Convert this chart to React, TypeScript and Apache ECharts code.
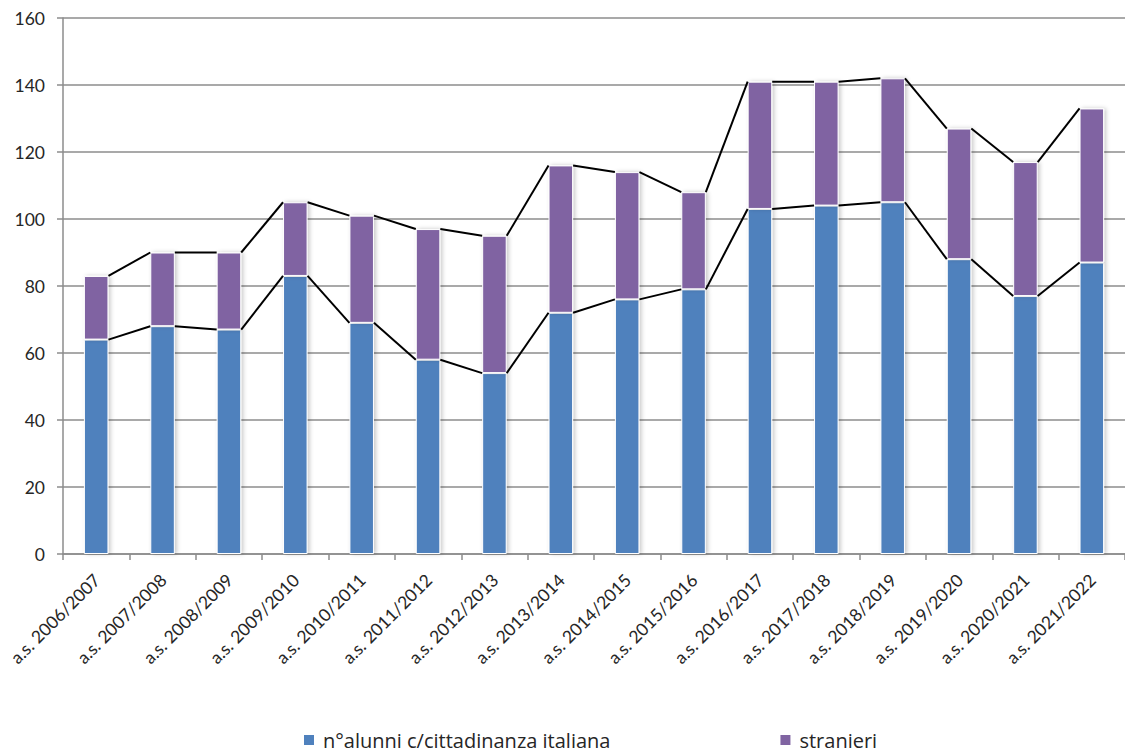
import React, { useEffect, useRef } from "react";
import * as echarts from "echarts";

const categories = [
  "a.s. 2006/2007", "a.s. 2007/2008", "a.s. 2008/2009", "a.s. 2009/2010",
  "a.s. 2010/2011", "a.s. 2011/2012", "a.s. 2012/2013", "a.s. 2013/2014",
  "a.s. 2014/2015", "a.s. 2015/2016", "a.s. 2016/2017", "a.s. 2017/2018",
  "a.s. 2018/2019", "a.s. 2019/2020", "a.s. 2020/2021", "a.s. 2021/2022",
];
const italiani = [64, 68, 67, 83, 69, 58, 54, 72, 76, 79, 103, 104, 105, 88, 77, 87];
const stranieri = [19, 22, 23, 22, 32, 39, 41, 44, 38, 29, 38, 37, 37, 39, 40, 46];
const seriesNames = ["n°alunni c/cittadinanza italiana", "stranieri"];
const yTicks = { min: 0, max: 160, interval: 20 };

const FONT = "Lato, 'Open Sans', sans-serif";
const LEGEND_FONT = "'Open Sans', Lato, sans-serif";
const BAR_FRAC = 0.37;

export default function App() {
  const ref = useRef<HTMLDivElement>(null);
  useEffect(() => {
    if (!ref.current) return;
    const chart = echarts.init(ref.current, undefined, { renderer: "svg" });
    const totals = italiani.map((v, i) => v + stranieri[i]);
    const mkLinks = (vals: number[]) =>
      vals.slice(0, -1).map((v, i) => [i, v, vals[i + 1]]);
    const renderLink = (params: any, api: any) => {
      const i = api.value(0);
      const p0 = api.coord([i, api.value(1)]);
      const p1 = api.coord([i + 1, api.value(2)]);
      const bw = api.size([1, 0])[0];
      const half = (bw * BAR_FRAC) / 2;
      return {
        type: "line",
        shape: { x1: p0[0] + half, y1: p0[1], x2: p1[0] - half, y2: p1[1] },
        style: { stroke: "#000", lineWidth: 2 },
        silent: true,
      };
    };
    const barStyle = (color: string) => ({
      color,
      borderColor: "#ffffff",
      borderWidth: 1,
      shadowColor: "rgba(0,0,0,0.22)",
      shadowBlur: 4,
      shadowOffsetX: 2,
      shadowOffsetY: 0,
    });
    chart.setOption({
      animation: false,
      backgroundColor: "#ffffff",
      textStyle: { fontFamily: FONT },
      grid: { left: 63, width: 1071, top: 18, bottom: 202, containLabel: false },
      legend: {
        data: seriesNames,
        left: 302,
        top: 730,
        padding: 0,
        icon: "rect",
        itemWidth: 12,
        itemHeight: 12,
        itemGap: 168,
        textStyle: { fontFamily: LEGEND_FONT, fontSize: 20, color: "#262626", padding: [0, 0, 0, 3] },
      },
      xAxis: {
        type: "category",
        data: categories,
        boundaryGap: true,
        axisLine: { lineStyle: { color: "#8c8c8c", width: 1.5 } },
        axisTick: { show: true, alignWithLabel: false, length: 6, lineStyle: { color: "#8c8c8c", width: 1.5 } },
        axisLabel: {
          rotate: 45,
          interval: 0,
          fontFamily: FONT,
          fontSize: 17.5,
          lineHeight: 18,
          color: "#262626",
          align: "right",
          verticalAlign: "top",
          padding: [0, 8, 0, 0],
          margin: 11,
        },
      },
      yAxis: {
        type: "value",
        min: yTicks.min,
        max: yTicks.max,
        interval: yTicks.interval,
        axisLine: { show: true, lineStyle: { color: "#8c8c8c", width: 1.5 } },
        axisTick: { show: true, length: 6, lineStyle: { color: "#8c8c8c", width: 1.5 } },
        splitLine: { lineStyle: { color: "#8c8c8c", width: 1.5 } },
        axisLabel: { fontFamily: FONT, fontSize: 17.5, color: "#262626", margin: 18 },
      },
      series: [
        {
          name: seriesNames[0],
          type: "bar",
          stack: "tot",
          barWidth: `${BAR_FRAC * 100}%`,
          data: italiani,
          itemStyle: barStyle("#4F81BD"),
        },
        {
          name: seriesNames[1],
          type: "bar",
          stack: "tot",
          barWidth: `${BAR_FRAC * 100}%`,
          data: stranieri,
          itemStyle: barStyle("#8064A2"),
        },
        {
          type: "custom",
          renderItem: renderLink,
          data: mkLinks(italiani),
          encode: { x: 0, y: 1 },
          z: 5,
          silent: true,
        },
        {
          type: "custom",
          renderItem: renderLink,
          data: mkLinks(totals),
          encode: { x: 0, y: 1 },
          z: 5,
          silent: true,
        },
      ],
    });
    return () => chart.dispose();
  }, []);
  return (
    <div
      ref={ref}
      style={{ position: "absolute", left: 0, top: 0, width: 1125, height: 756 }}
    />
  );
}
